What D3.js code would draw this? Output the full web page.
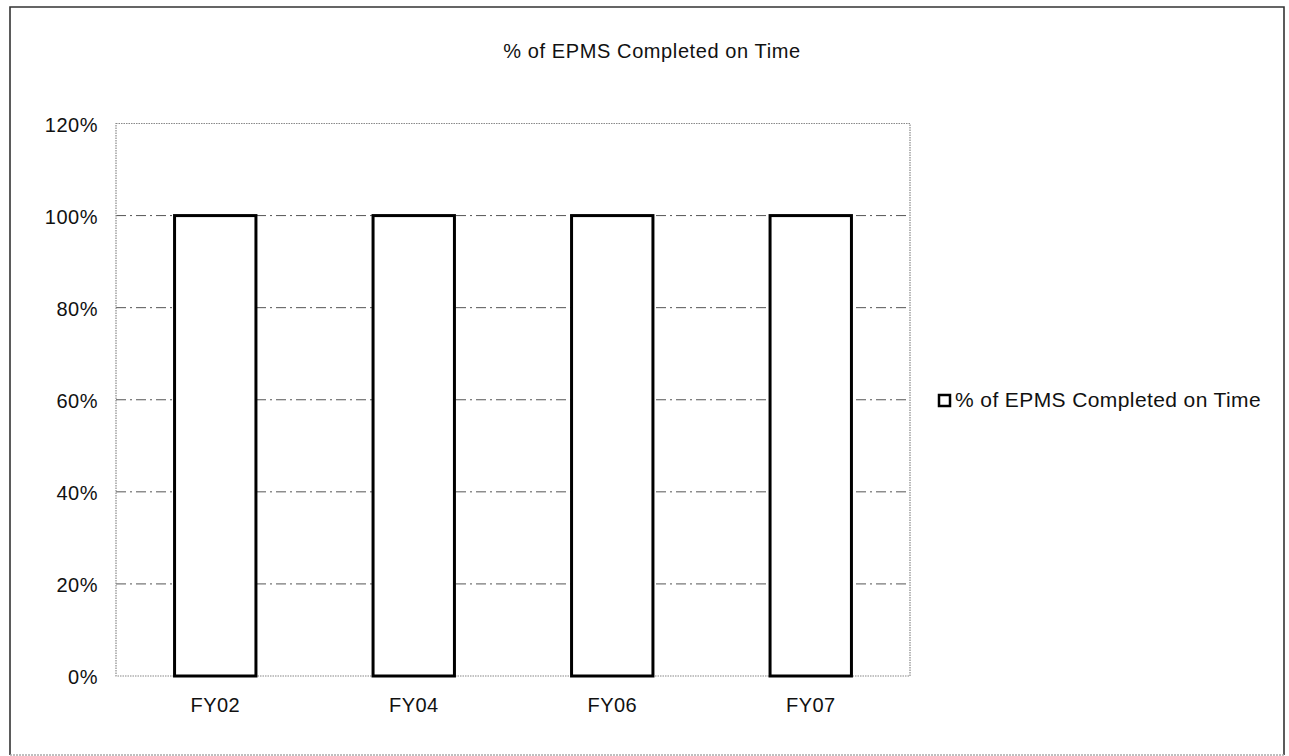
<!DOCTYPE html>
<html><head><meta charset="utf-8">
<script src="https://cdn.jsdelivr.net/npm/d3@7"></script>
<style>body{margin:0;background:#fff}svg{display:block}text{font-family:"Liberation Sans",Arial,sans-serif;fill:#111}</style>
</head><body>
<svg id="c" width="1289" height="756"></svg>
<script>
const categories = ["FY02","FY04","FY06","FY07"];
const values = [100,100,100,100];
const yTicks = [0,20,40,60,80,100,120];
const seriesName = "% of EPMS Completed on Time";
const titleText = "% of EPMS Completed on Time";

const svg = d3.select("#c");
const m = {left:116, right:910, top:123.5, bottom:676};
// outer border: dark left/top/right, light dotted bottom
svg.append("path").attr("d","M10,755 L10,7 L1284,7 L1284,755")
  .attr("fill","none").attr("stroke","#333").attr("stroke-width",1.6);
svg.append("line").attr("x1",10).attr("x2",1284).attr("y1",755).attr("y2",755)
  .attr("stroke","#aaa").attr("stroke-width",1.5).attr("stroke-dasharray","2,1");

const x = d3.scaleBand().domain(categories).range([m.left,m.right]).paddingInner(0.59).paddingOuter(0.295);
const y = d3.scaleLinear().domain([0,120]).range([m.bottom,m.top]);

// gridlines
svg.append("g").selectAll("line").data(yTicks.filter(t=>t>0&&t<120)).join("line")
  .attr("x1",m.left).attr("x2",m.right).attr("y1",d=>y(d)).attr("y2",d=>y(d))
  .attr("stroke","#555").attr("stroke-width",1).attr("stroke-dasharray","10,4,2,4");

// plot area border (dotted)
svg.append("rect").attr("x",m.left).attr("y",m.top).attr("width",m.right-m.left).attr("height",m.bottom-m.top)
  .attr("fill","none").attr("stroke","#888").attr("stroke-width",1.2).attr("stroke-dasharray","1.5,1");

// y axis
const yAxis = d3.axisLeft(y).tickValues(yTicks).tickFormat(d=>d+"%").tickSize(0).tickPadding(18);
const ga = svg.append("g").attr("transform",`translate(${m.left},0)`).call(yAxis);
ga.select(".domain").remove();
ga.selectAll("text").attr("font-size",20).style("letter-spacing","0.5px").attr("dy","0.38em").attr("fill","#111");

// x axis
const xAxis = d3.axisBottom(x).tickSize(0).tickPadding(22);
const gx = svg.append("g").attr("transform",`translate(0,${m.bottom})`).call(xAxis);
gx.select(".domain").remove();
gx.selectAll("text").attr("font-size",20).style("letter-spacing","0.4px").attr("fill","#111");

// bars
svg.append("g").selectAll("rect").data(categories).join("rect")
  .attr("x",d=>x(d)).attr("width",x.bandwidth())
  .attr("y",(d,i)=>y(values[i])).attr("height",(d,i)=>y(0)-y(values[i]))
  .attr("fill","#fff").attr("stroke","#000").attr("stroke-width",3);

// title
svg.append("text").attr("x",652).attr("y",58).attr("text-anchor","middle")
  .attr("font-size",20).style("letter-spacing","0.6px").text(titleText);

// legend
svg.append("rect").attr("x",939).attr("y",395).attr("width",11).attr("height",11)
  .attr("fill","#fff").attr("stroke","#000").attr("stroke-width",2.5);
svg.append("text").attr("x",955).attr("y",407).attr("font-size",21).style("letter-spacing","0.4px").text(seriesName);
</script>
</body></html>
